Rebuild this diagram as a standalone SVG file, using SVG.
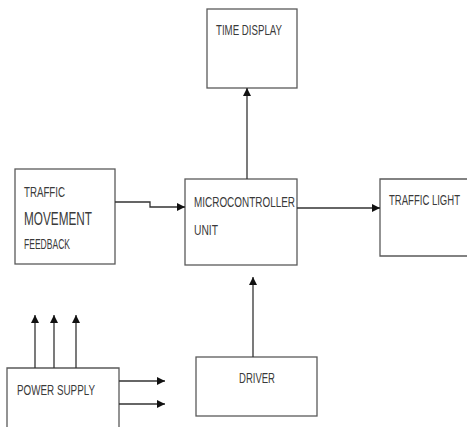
<svg xmlns="http://www.w3.org/2000/svg" width="467" height="427" viewBox="0 0 467 427">
  <defs>
    <marker id="arrow" viewBox="0 0 10 10" refX="10" refY="5" markerWidth="8" markerHeight="8" markerUnits="userSpaceOnUse" orient="auto">
      <path d="M0,0 L10,5 L0,10 Z" fill="#111"/>
    </marker>
  </defs>
  <style>
    .box { fill: #fff; stroke: #5a5a5a; stroke-width: 1.3; }
    .lbl { font-family: "Liberation Sans", Arial, sans-serif; font-size: 15.5px; fill: #3a3a3a; }
    .conn { fill: none; stroke: #333; stroke-width: 1.3; marker-end: url(#arrow); }
  </style>
  <rect width="467" height="427" fill="#fff"/>

  <g id="time-display">
    <rect class="box" x="207" y="9" width="90" height="79"/>
    <text class="lbl" x="216" y="35" textLength="66" lengthAdjust="spacingAndGlyphs">TIME DISPLAY</text>
  </g>

  <g id="traffic-movement-feedback">
    <rect class="box" x="15" y="169" width="100" height="95"/>
    <text class="lbl" x="24" y="197" textLength="41" lengthAdjust="spacingAndGlyphs">TRAFFIC</text>
    <text class="lbl" x="24" y="225" style="font-size:19px" textLength="68" lengthAdjust="spacingAndGlyphs">MOVEMENT</text>
    <text class="lbl" x="24" y="249" style="font-size:14px" textLength="46" lengthAdjust="spacingAndGlyphs">FEEDBACK</text>
  </g>

  <g id="microcontroller-unit">
    <rect class="box" x="185" y="179" width="112" height="86"/>
    <text class="lbl" x="194" y="207" textLength="101" lengthAdjust="spacingAndGlyphs">MICROCONTROLLER</text>
    <text class="lbl" x="194" y="235" textLength="24" lengthAdjust="spacingAndGlyphs">UNIT</text>
  </g>

  <g id="traffic-light">
    <path class="box" d="M475,179 H380 V256 H475"/>
    <text class="lbl" x="389" y="205" textLength="71" lengthAdjust="spacingAndGlyphs">TRAFFIC LIGHT</text>
  </g>

  <g id="power-supply">
    <path class="box" d="M7,430 V368 H119 V430"/>
    <text class="lbl" x="17" y="395" textLength="78" lengthAdjust="spacingAndGlyphs">POWER SUPPLY</text>
  </g>

  <g id="driver">
    <rect class="box" x="196" y="357" width="121" height="59"/>
    <text class="lbl" x="239" y="383" textLength="36" lengthAdjust="spacingAndGlyphs">DRIVER</text>
  </g>

  <g id="connectors">
    <path class="conn" d="M115,202 H150 V207 H185"/>
    <path class="conn" d="M247,179 V88"/>
    <path class="conn" d="M297,208 H380"/>
    <path class="conn" d="M253,357 V277"/>
    <path class="conn" d="M35,368 V315"/>
    <path class="conn" d="M54,368 V315"/>
    <path class="conn" d="M76,368 V315"/>
    <path class="conn" d="M119,381 H165"/>
    <path class="conn" d="M119,404 H165"/>
  </g>
</svg>
